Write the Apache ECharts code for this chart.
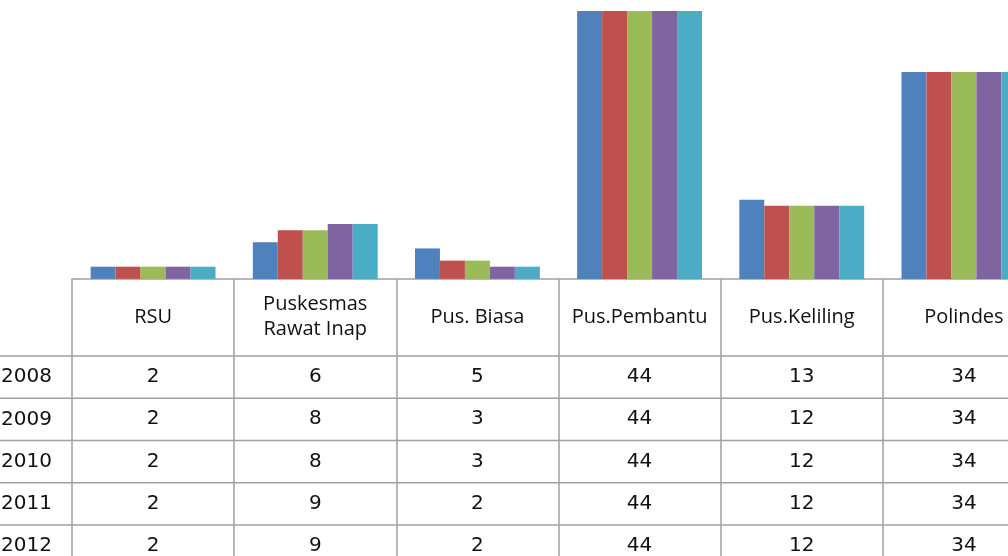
<!DOCTYPE html>
<html>
<head>
<meta charset="utf-8">
<script src="https://cdn.jsdelivr.net/npm/echarts@6/dist/echarts.min.js"></script>
<style>
html,body{margin:0;padding:0;background:#fff;overflow:hidden;width:1008px;height:556px;}
#c{width:1045px;height:556px;}
</style>
</head>
<body>
<div id="c"></div>
<script>
var categories = ['RSU', 'Puskesmas\nRawat Inap', 'Pus. Biasa', 'Pus.Pembantu', 'Pus.Keliling', 'Polindes'];
var years = ['2008', '2009', '2010', '2011', '2012'];
var v2008 = [2, 6, 5, 44, 13, 34];
var v2009 = [2, 8, 3, 44, 12, 34];
var v2010 = [2, 8, 3, 44, 12, 34];
var v2011 = [2, 9, 2, 44, 12, 34];
var v2012 = [2, 9, 2, 44, 12, 34];
var values = [v2008, v2009, v2010, v2011, v2012];
var colors = ['#4F81BD', '#C0504D', '#9BBB59', '#8064A2', '#4BACC6'];

var FONT = 'Open Sans';
var NUMFONT = 'DejaVu Sans';
var TXT = '#111111';
var LINE = '#a0a0a0';
var axisY = 279;
var headerBottom = 356;
var rowH = 42.25;

var chart = echarts.init(document.getElementById('c'));

var xAxes = [{
  type: 'category',
  data: categories,
  gridIndex: 0,
  position: 'bottom',
  axisLine: {show: true, lineStyle: {color: LINE, width: 1.5}},
  axisTick: {show: true, length: 300, lineStyle: {color: LINE, width: 1.5}},
  axisLabel: {
    interval: 0, margin: 38, verticalAlign: 'middle', align: 'center',
    fontFamily: FONT, fontSize: 20, color: TXT, lineHeight: 25
  },
  splitLine: {show: false}
}];
years.forEach(function (y, r) {
  xAxes.push({
    type: 'category',
    data: categories,
    gridIndex: 0,
    position: 'bottom',
    offset: headerBottom + rowH * (r + 0.5) - axisY,
    axisLine: {show: false},
    axisTick: {show: false},
    splitLine: {show: false},
    axisLabel: {
      interval: 0, margin: 0, verticalAlign: 'middle', align: 'center',
      fontFamily: NUMFONT, fontSize: 20, color: TXT,
      formatter: function (val, idx) { return String(values[r][idx]); }
    }
  });
});

var graphics = [];
years.forEach(function (y, r) {
  var yLine = headerBottom + rowH * r;
  graphics.push({
    type: 'line', silent: true,
    shape: {x1: 0, y1: yLine, x2: 1045, y2: yLine},
    style: {stroke: LINE, lineWidth: 1.5}
  });
  graphics.push({
    type: 'text', silent: true,
    x: 1, y: yLine + rowH / 2,
    style: {text: y, fontFamily: NUMFONT, fontSize: 20, fill: TXT, verticalAlign: 'middle', align: 'left'}
  });
});

chart.setOption({
  animation: false,
  backgroundColor: '#ffffff',
  grid: {left: 72, right: 0, top: 11, bottom: 556 - axisY, containLabel: false},
  xAxis: xAxes,
  yAxis: {type: 'value', min: 0, max: 44, show: false, splitLine: {show: false}},
  graphic: graphics,
  series: years.map(function (y, i) {
    return {
      name: y,
      type: 'bar',
      data: values[i],
      barGap: '0%',
      barCategoryGap: '23%',
      itemStyle: {color: colors[i]}
    };
  })
});
</script>
</body>
</html>
